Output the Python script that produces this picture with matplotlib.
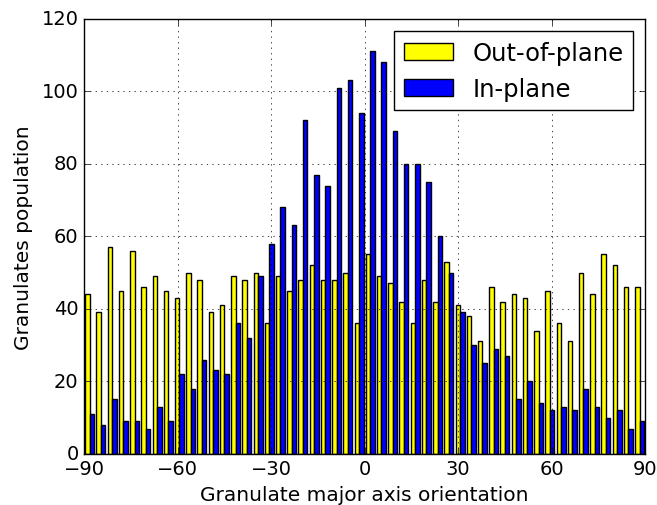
import numpy as np
import matplotlib
matplotlib.use("Agg")
import matplotlib.pyplot as plt

plt.style.use("classic")

out_of_plane = [44, 39, 57, 45, 56, 46, 49, 45, 43, 50, 48, 39, 41, 49, 48, 50,
                36, 49, 45, 48, 52, 48, 48, 50, 36, 55, 49, 47, 42, 36, 48, 42,
                53, 41, 38, 31, 46, 42, 44, 43, 34, 45, 36, 31, 50, 44, 55, 52, 46, 46]
in_plane = [11, 8, 15, 9, 9, 7, 13, 9, 22, 18, 26, 23, 22, 36, 32, 49,
            58, 68, 63, 92, 77, 74, 101, 103, 94, 111, 108, 89, 80, 80, 75, 60,
            50, 39, 30, 25, 29, 27, 15, 20, 14, 12, 13, 12, 18, 13, 10, 12, 7, 9]
x_ticks = [-90, -60, -30, 0, 30, 60, 90]
y_ticks = [0, 20, 40, 60, 80, 100, 120]

edges = np.linspace(-90, 90, len(in_plane) + 1)
bw = edges[1] - edges[0]

fig = plt.figure(figsize=(6.57, 5.06), dpi=100, facecolor="white")
ax = fig.add_axes([0.128, 0.101, 0.854, 0.860])
ax.bar(edges[:-1] + 0.1 * bw, out_of_plane, width=0.4 * bw, align="edge",
       color="#ffff00", edgecolor="black", linewidth=1, label="Out-of-plane")
ax.bar(edges[:-1] + 0.5 * bw, in_plane, width=0.4 * bw, align="edge",
       color="#0000ff", edgecolor="black", linewidth=1, label="In-plane")
ax.set_xlim(-90, 90)
ax.set_ylim(0, 120)
ax.set_xticks(x_ticks)
ax.set_yticks(y_ticks)
ax.tick_params(labelsize=14)
ax.grid(True, linestyle=":", color="black")
ax.set_axisbelow(False)
ax.set_xlabel("Granulate major axis orientation", fontsize=14.5)
ax.set_ylabel("Granulates population", fontsize=14.5, labelpad=6)
ax.legend(loc="upper right", fontsize=17.5, fancybox=False,
          handlelength=2, handleheight=0.7, handletextpad=0.8, labelspacing=0.5)
fig.savefig("out.png", dpi=100, facecolor="white")
